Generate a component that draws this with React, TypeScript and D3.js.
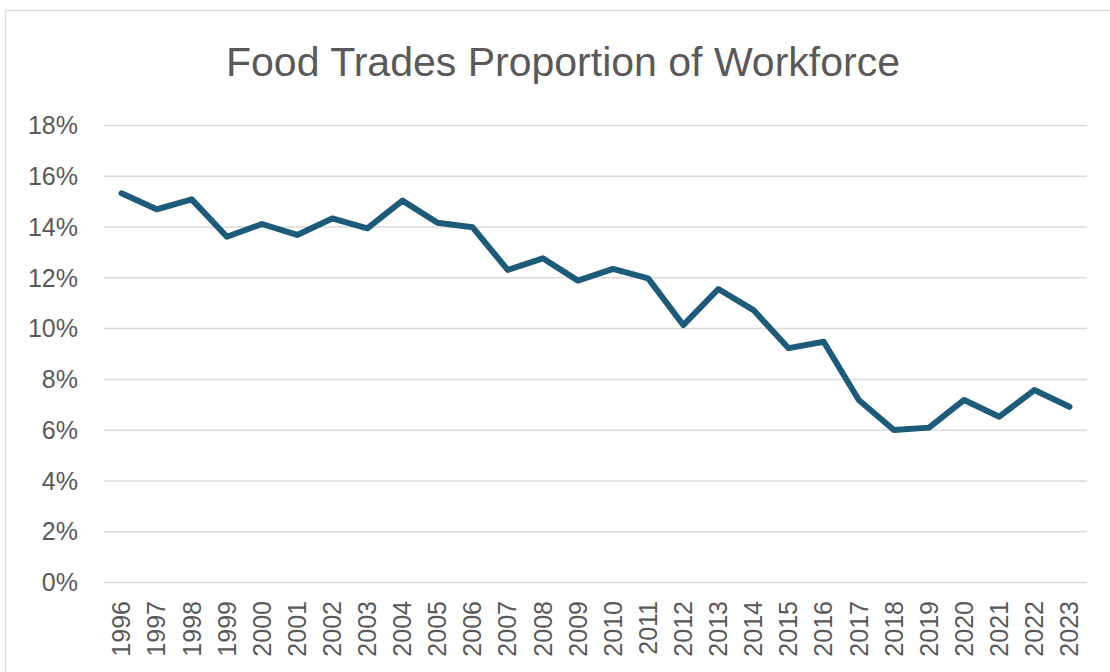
import React from "react";
import * as d3 from "d3";

const years: string[] = [
  "1996","1997","1998","1999","2000","2001","2002","2003","2004","2005",
  "2006","2007","2008","2009","2010","2011","2012","2013","2014","2015",
  "2016","2017","2018","2019","2020","2021","2022","2023",
];
const shares: number[] = [
  15.33, 14.70, 15.09, 13.62, 14.12, 13.69, 14.34, 13.95, 15.04, 14.17,
  13.99, 12.31, 12.77, 11.89, 12.35, 11.98, 10.14, 11.56, 10.73, 9.23,
  9.48, 7.19, 6.01, 6.10, 7.19, 6.53, 7.58, 6.92,
];
const yTicks: number[] = [0, 2, 4, 6, 8, 10, 12, 14, 16, 18];
const title = "Food Trades Proportion of Workforce";

const W = 1110;
const H = 672;
const plot = { left: 104, right: 1087, top: 125.5, bottom: 582.5 };

export default function App() {
  const x = d3
    .scalePoint<string>()
    .domain(years)
    .range([plot.left, plot.right])
    .padding(0.5);
  const y = d3.scaleLinear().domain([0, 18]).range([plot.bottom, plot.top]);
  const line = d3
    .line<number>()
    .x((_, i) => x(years[i]) as number)
    .y((d) => y(d));

  const font = "'Liberation Sans', Arial, sans-serif";
  const textColor = "#595959";

  return (
    <svg
      width={W}
      height={H}
      style={{ position: "absolute", left: 0, top: 0, background: "#fff" }}
    >
      <rect x={0} y={0} width={W} height={H} fill="#fff" />
      <rect
        x={5.5}
        y={10.5}
        width={1300}
        height={900}
        fill="#fff"
        stroke="#d9d9d9"
        strokeWidth={1.5}
      />
      <text
        x={563}
        y={76}
        textAnchor="middle"
        fontFamily={font}
        fontSize={40}
        fill={textColor}
        textLength={674}
        lengthAdjust="spacingAndGlyphs"
      >
        {title}
      </text>
      {yTicks.map((t) => (
        <g key={t}>
          <line
            x1={plot.left}
            x2={plot.right}
            y1={y(t)}
            y2={y(t)}
            stroke="#d9d9d9"
            strokeWidth={1.5}
          />
          <text
            x={78}
            y={y(t)}
            dy="0.35em"
            textAnchor="end"
            fontFamily={font}
            fontSize={25}
            fill={textColor}
          >
            {t}%
          </text>
        </g>
      ))}
      {years.map((yr) => (
        <text
          key={yr}
          transform={`translate(${(x(yr) as number)}, 601) rotate(-90)`}
          dy="0.35em"
          textAnchor="end"
          fontFamily={font}
          fontSize={25}
          fill={textColor}
        >
          {yr}
        </text>
      ))}
      <path
        d={line(shares) || ""}
        fill="none"
        stroke="#1d5b7a"
        strokeWidth={6}
        strokeLinejoin="round"
        strokeLinecap="round"
      />
    </svg>
  );
}
